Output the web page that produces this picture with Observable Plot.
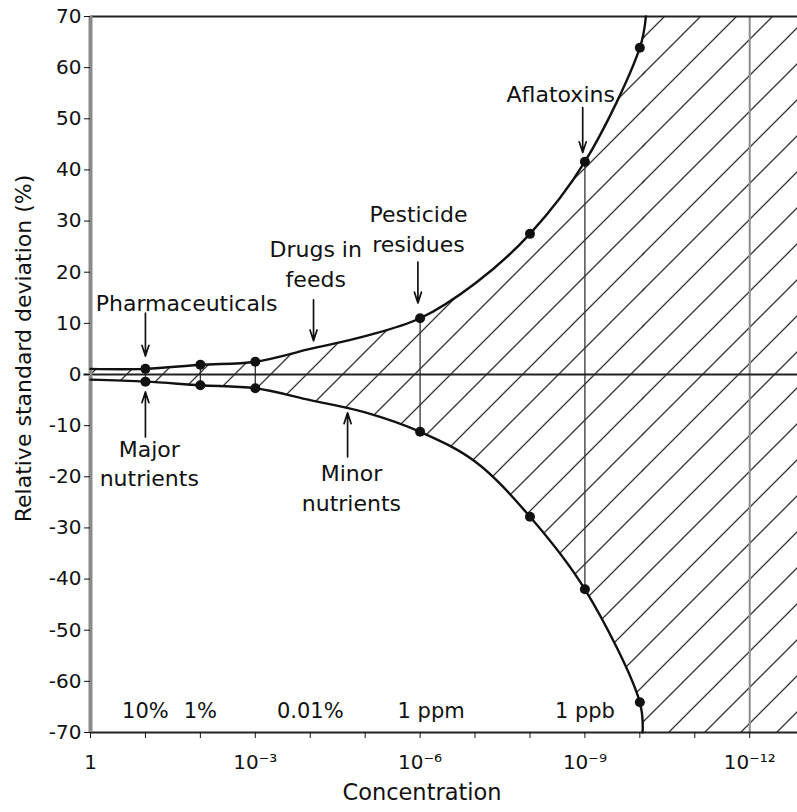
<!DOCTYPE html>
<html><head><meta charset="utf-8">
<script src="https://cdn.jsdelivr.net/npm/d3@7"></script>
<script src="https://cdn.jsdelivr.net/npm/@observablehq/plot@0.6"></script>
<style>body{margin:0;background:#fff}</style>
</head><body><div id="chart"></div>
<script>
// Y axis ticks (relative standard deviation, %)
const yTicks = [-70, -60, -50, -40, -30, -20, -10, 0, 10, 20, 30, 40, 50, 60, 70];
// X axis: concentration as decades (10^-d)
const xTickDecades = [0, 1, 2, 3, 4, 5, 6, 7, 8, 9, 10, 11, 12];
const xLabelDecades = [0, 3, 6, 9, 12];
const xTickLabels = ["1", "10⁻³", "10⁻⁶", "10⁻⁹", "10⁻¹²"];

// Upper and lower trumpet curves
const upperCurveDecades = [0, 1, 2, 3, 4, 5, 6, 7, 8, 9, 10, 10.11];
const upperCurveValues  = [1.1, 1.1, 1.9, 2.5, 5.0, 7.5, 11.0, 17.8, 27.5, 41.6, 63.9, 70];
const lowerCurveDecades = [0, 1, 2, 3, 4, 5, 6, 7, 8, 9, 10, 10.05];
const lowerCurveValues  = [-1.0, -1.4, -2.1, -2.7, -5.0, -7.4, -11.2, -17.0, -27.8, -42.0, -64.1, -70];

// Data points
const dotDecades = [1, 2, 3, 6, 8, 9, 10];
const dotUpper   = [1.1, 1.9, 2.5, 11.0, 27.5, 41.6, 63.9];
const dotLower   = [-1.4, -2.1, -2.7, -11.2, -27.8, -42.0, -64.1];
// Dots joined by a vertical line
const joinedDecades = [1, 2, 3, 6, 9];
// Full-height reference line
const refDecades = [12];

// Concentration labels along the bottom
const concLabels = ["10%", "1%", "0.01%", "1 ppm", "1 ppb"];
const concLabelDecades = [1, 2, 4, 6.2, 9];

// Annotations
const annLabels  = ["Pharmaceuticals", "Drugs in\nfeeds", "Pesticide\nresidues", "Aflatoxins", "Major\nnutrients", "Minor\nnutrients"];
const annDecades = [1.75, 4.1, 5.97, 8.56, 1.07, 4.75];
const annValues  = [14.2, 21.9, 28.8, 55.2, -17.1, -21.9];

// Arrows
const arrowDecades = [1, 1, 4.06, 5.96, 8.96, 4.68];
const arrowFrom    = [12.0, -12.2, 14.6, 22.0, 52.2, -16.1];
const arrowTo      = [3.6, -3.4, 6.6, 14.0, 43.4, -7.5];

const xMax = 12.87;
const yLabel = "Relative standard deviation (%)";
const xLabel = "Concentration";
const FONT = "DejaVu Sans";

function hatchDefs() {
  const defs = d3.create("svg:defs");
  const p = defs.append("pattern").attr("id", "hatch")
    .attr("patternUnits", "userSpaceOnUse")
    .attr("width", 36).attr("height", 36).attr("x", 33).attr("y", 0);
  p.append("path").attr("d", "M0,36L36,0M-9,9L9,-9M27,45L45,27")
    .attr("stroke", "#333").attr("stroke-width", 1.3).attr("fill", "none");
  return defs.node();
}

const uIdx = d3.range(upperCurveDecades.length);
const lIdx = d3.range(lowerCurveDecades.length);
const dIdx = d3.range(dotDecades.length);
const jIdx = joinedDecades.map(d => dotDecades.indexOf(d));
const aIdx = d3.range(arrowDecades.length);
const nIdx = d3.range(annLabels.length);
const cIdx = d3.range(concLabels.length);

const chart = Plot.plot({
  width: 797,
  height: 812,
  marginLeft: 90,
  marginRight: 0,
  marginTop: 16,
  marginBottom: 80,
  style: {fontFamily: FONT, fontSize: "20px", background: "#fff", color: "#111", overflow: "visible"},
  x: {type: "linear", domain: [0, xMax]},
  y: {domain: [-70, 70]},
  marks: [
    hatchDefs,
    Plot.area(uIdx, {
      x1: i => upperCurveDecades[i], y1: i => upperCurveValues[i],
      x2: i => lowerCurveDecades[i], y2: i => lowerCurveValues[i],
      fill: "url(#hatch)", curve: "catmull-rom"
    }),
    Plot.rect([0], {x1: () => d3.min([upperCurveDecades.at(-1), lowerCurveDecades.at(-1)]), x2: () => xMax, fill: "url(#hatch)"}),
    Plot.ruleX(refDecades, {stroke: "#8c8c8c", strokeWidth: 2}),
    Plot.ruleX(jIdx, {x: i => dotDecades[i], y1: i => dotLower[i], y2: i => dotUpper[i], stroke: "#333", strokeWidth: 1.3}),
    Plot.ruleY([70, -70], {stroke: "#222", strokeWidth: 1.8}),
    Plot.ruleY([0], {stroke: "#222", strokeWidth: 1.8, x1: -0.12, x2: xMax}),
    Plot.ruleX([0], {stroke: "#8a8a8a", strokeWidth: 4}),
    Plot.line(uIdx, {x: i => upperCurveDecades[i], y: i => upperCurveValues[i], curve: "catmull-rom", stroke: "#111", strokeWidth: 2.4}),
    Plot.line(lIdx, {x: i => lowerCurveDecades[i], y: i => lowerCurveValues[i], curve: "catmull-rom", stroke: "#111", strokeWidth: 2.4}),
    Plot.dot(dIdx, {x: i => dotDecades[i], y: i => dotUpper[i], r: 5, fill: "#111"}),
    Plot.dot(dIdx, {x: i => dotDecades[i], y: i => dotLower[i], r: 5, fill: "#111"}),
    Plot.arrow(aIdx, {
      x1: i => arrowDecades[i], x2: i => arrowDecades[i],
      y1: i => arrowFrom[i], y2: i => arrowTo[i],
      stroke: "#111", strokeWidth: 1.7, headLength: 10, headAngle: 36
    }),
    Plot.text(nIdx, {
      x: i => annDecades[i], y: i => annValues[i], text: i => annLabels[i],
      fontSize: 22, lineHeight: 1.36, fill: "#111"
    }),
    Plot.text(cIdx, {
      x: i => concLabelDecades[i], text: i => concLabels[i],
      frameAnchor: "bottom", dy: -15, fontSize: 21, fill: "#111"
    }),
    Plot.axisY({
      ticks: yTicks, tickSize: 6, tickPadding: 3, tickFormat: d => String(d),
      fontSize: 20, label: null
    }),
    Plot.axisX({
      ticks: xTickDecades, tickSize: 6, tickPadding: 16,
      tickFormat: d => { const k = xLabelDecades.indexOf(d); return k >= 0 ? xTickLabels[k] : ""; },
      fontSize: 20, label: null
    }),
    Plot.text([yLabel], {text: d => d, frameAnchor: "left", textAnchor: "middle", rotate: -90, dx: -67, dy: -26, fontSize: 22, fill: "#111"}),
    Plot.text([xLabel], {text: d => d, frameAnchor: "bottom", textAnchor: "middle", dx: -22, dy: 67, fontSize: 22.5, fill: "#111"})
  ]
});
document.getElementById("chart").appendChild(chart);
</script>
</body></html>
